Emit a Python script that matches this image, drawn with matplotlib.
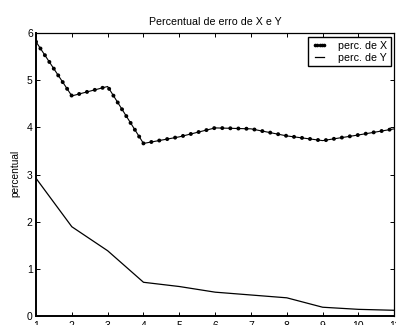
import matplotlib
matplotlib.use("Agg")
import matplotlib.pyplot as plt
from matplotlib.lines import Line2D

plt.rcParams['font.family'] = ['Liberation Sans', 'DejaVu Sans']

x = [1, 2, 3, 4, 5, 6, 7, 8, 9, 10, 11]
perc_x = [5.82, 4.67, 4.87, 3.66, 3.80, 3.99, 3.97, 3.82, 3.72, 3.84, 3.97]
perc_y = [2.92, 1.89, 1.38, 0.71, 0.62, 0.50, 0.44, 0.38, 0.18, 0.135, 0.115]
xticks = list(range(1, 12))
yticks = list(range(0, 7))

W, H = 396, 325
fig = plt.figure(figsize=(W / 100, H / 100), dpi=100)
ax = fig.add_axes([36 / W, 1 - 315.7 / H, (394.3 - 36) / W, (315.7 - 33.3) / H])

# X series: thin solid line plus round dots evenly spaced along it
ax.plot(x, perc_x, color='black', lw=0.8)
ax.plot(x, perc_x, color='black', lw=2.9, linestyle=(0, (0.01, 1.99)),
        dash_capstyle='round')
ax.plot(x, perc_y, color='black', lw=0.9)

ax.set_xlim(1, 11)
ax.set_ylim(0, 6)
ax.set_xticks(xticks)
ax.set_yticks(yticks)
ax.tick_params(direction='in', length=2.6, width=0.7, top=True, right=True,
               labelsize=7.5, pad=2.3)
ax.tick_params(axis='x', pad=3.5)
for s in ax.spines.values():
    s.set_linewidth(0.9)
    s.set_color('black')
ax.spines['left'].set_linewidth(1.4)
ax.spines['bottom'].set_linewidth(1.4)

h1 = Line2D([], [], color='black', lw=0.8, marker='o', markersize=1.6)
h2 = Line2D([], [], color='black', lw=0.9)
leg = ax.legend([h1, h2], ['perc. de X', 'perc. de Y'], loc='upper right',
                bbox_to_anchor=((390.7 - 36) / 358.3, (315.7 - 37.3) / 282.4),
                borderaxespad=0, fontsize=7.7, numpoints=5, handlelength=1.5,
                handletextpad=1.0, borderpad=0.3, labelspacing=0.2,
                fancybox=False, framealpha=1, edgecolor='black')
leg.get_frame().set_linewidth(1.0)

fig.text(215.8 / W, 1 - 25.3 / H, 'Percentual de erro de X e Y', ha='center',
         va='baseline', fontsize=7.7)
fig.text(15.3 / W, 1 - 173.3 / H, 'percentual', ha='center', va='center',
         rotation=90, fontsize=7.3)

fig.savefig('out.png', dpi=100)
